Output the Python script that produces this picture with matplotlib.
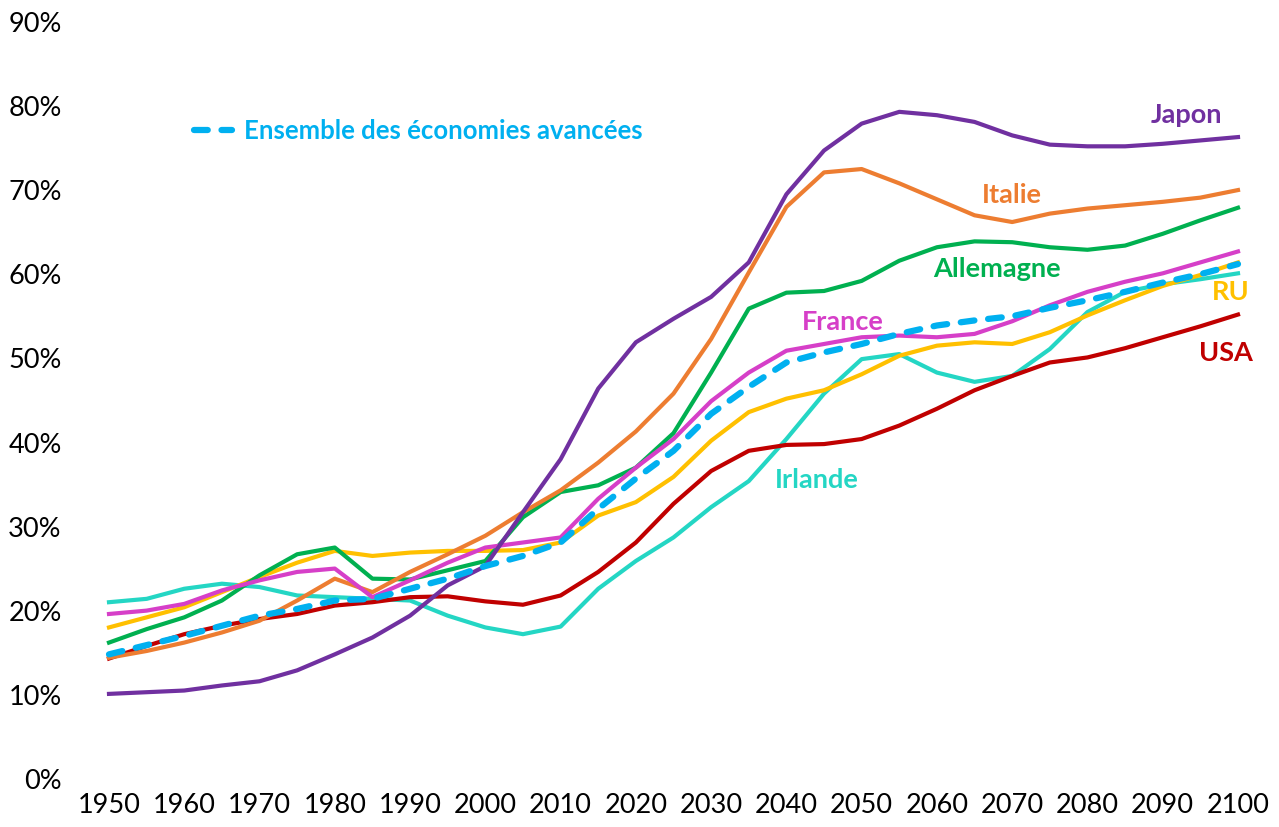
import matplotlib.pyplot as plt

years = list(range(1950, 2101, 5))

japon = [10.0, 10.2, 10.4, 11.0, 11.5, 12.8, 14.7, 16.7, 19.3, 22.9,
         25.2, 31.6, 37.9, 46.3, 51.8, 54.6, 57.2, 61.3, 69.4, 74.6,
         77.8, 79.2, 78.8, 78.0, 76.4, 75.3, 75.1, 75.1, 75.4, 75.8, 76.2]
italie = [14.3, 15.1, 16.1, 17.3, 18.7, 21.1, 23.7, 22.1, 24.5, 26.6,
          28.8, 31.6, 34.2, 37.5, 41.2, 45.7, 52.2, 60.1, 67.9, 72.0,
          72.4, 70.7, 68.8, 66.9, 66.1, 67.1, 67.7, 68.1, 68.5, 69.0, 69.9]
allemagne = [16.1, 17.7, 19.1, 21.1, 24.1, 26.6, 27.4, 23.7, 23.6, 24.7,
             25.8, 31.0, 34.0, 34.8, 36.9, 41.0, 48.2, 55.8, 57.7, 57.9,
             59.1, 61.5, 63.1, 63.8, 63.7, 63.1, 62.8, 63.3, 64.7, 66.3, 67.8]
france = [19.5, 19.9, 20.7, 22.3, 23.5, 24.5, 24.9, 21.5, 23.5, 25.6,
          27.4, 28.0, 28.6, 33.2, 36.9, 40.3, 44.8, 48.2, 50.8, 51.6,
          52.4, 52.6, 52.4, 52.8, 54.3, 56.2, 57.8, 59.0, 60.0, 61.3, 62.6]
ru = [17.9, 19.1, 20.3, 22.1, 23.9, 25.6, 27.0, 26.4, 26.8, 27.0,
      27.0, 27.1, 28.0, 31.2, 32.8, 35.8, 40.1, 43.5, 45.1, 46.1,
      48.0, 50.2, 51.4, 51.8, 51.6, 53.0, 55.0, 56.8, 58.5, 59.8, 61.3]
usa = [14.2, 15.7, 17.1, 18.1, 18.9, 19.5, 20.5, 20.9, 21.5, 21.6,
       21.0, 20.6, 21.7, 24.5, 28.0, 32.6, 36.5, 38.9, 39.6, 39.7,
       40.3, 41.9, 43.9, 46.1, 47.8, 49.4, 50.0, 51.1, 52.4, 53.7, 55.1]
irlande = [20.9, 21.3, 22.5, 23.1, 22.7, 21.7, 21.5, 21.3, 21.1, 19.3,
           17.9, 17.1, 18.0, 22.5, 25.8, 28.6, 32.2, 35.3, 40.3, 45.7,
           49.8, 50.4, 48.2, 47.1, 47.8, 51.0, 55.4, 57.8, 58.7, 59.3, 60.0]
ensemble = [14.7, 15.8, 16.9, 18.1, 19.3, 20.1, 21.1, 21.3, 22.5, 23.7,
            25.2, 26.4, 28.0, 32.0, 35.6, 38.9, 43.3, 46.5, 49.4, 50.6,
            51.6, 52.8, 53.8, 54.4, 54.9, 55.9, 56.8, 57.8, 58.9, 59.9, 61.1]

x_ticks = list(range(1950, 2101, 10))
y_ticks = list(range(0, 91, 10))

plt.rcParams['font.family'] = ['Lato', 'DejaVu Sans']

fig = plt.figure(figsize=(12.79, 8.28), dpi=100)
ax = fig.add_axes([109 / 1279, 49 / 828, (1238 - 109) / 1279, (779 - 22) / 828])

series = [
    (irlande, "#24D6C4"),
    (usa, "#C00000"),
    (ru, "#FFC000"),
    (allemagne, "#00B050"),
    (italie, "#ED7D31"),
    (france, "#D63FC8"),
    (japon, "#7030A0"),
]
for vals, col in series:
    ax.plot(years, vals, color=col, lw=3, clip_on=False, solid_joinstyle='round')
dash = (0, (2.2, 2.2))
ax.plot(years, ensemble, color="#00B0F0", lw=4.5, ls=dash,
        clip_on=False, dash_capstyle='round')

ax.set_xlim(1950, 2100)
ax.set_ylim(0, 90)
ax.set_xticks(x_ticks)
ax.set_yticks(y_ticks)
ax.set_yticklabels([f"{v}%" for v in y_ticks])
for s in ax.spines.values():
    s.set_visible(False)
ax.tick_params(axis='both', length=0, labelsize=19.5)
ax.tick_params(axis='y', pad=34)
ax.tick_params(axis='x', pad=10)

lab = dict(fontsize=19.5, fontweight='bold', ha='center', va='center')
ax.text(2093.1, 79.0, "Japon", color="#7030A0", **lab)
ax.text(2070, 69.4, "Italie", color="#ED7D31", **lab)
ax.text(2068, 60.6, "Allemagne", color="#00B050", **lab)
ax.text(2099, 57.9, "RU", color="#FFC000", **lab)
ax.text(2098.4, 50.7, "USA", color="#C00000", **lab)
ax.text(2047.5, 54.3, "France", color="#D63FC8", **lab)
ax.text(2044, 35.6, "Irlande", color="#24D6C4", **lab)

ax.plot([1961.3, 1966.3], [77.05, 77.05], color="#00B0F0", lw=4.5,
        ls=dash, dash_capstyle='round')
ax.text(1968, 77.05, "Ensemble des économies avancées", color="#00B0F0",
        fontsize=18.5, fontweight='bold', ha='left', va='center')

fig.savefig("out.png", dpi=100)
